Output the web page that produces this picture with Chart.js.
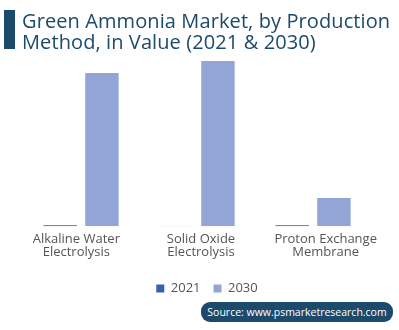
<!DOCTYPE html>
<html>
<head>
<meta charset="utf-8">
<script src="https://cdn.jsdelivr.net/npm/chart.js@4/dist/chart.umd.min.js"></script>
<style>
html,body{margin:0;padding:0;background:#fff;}
#wrap{position:relative;width:399px;height:330px;overflow:hidden;}
#bar{position:absolute;left:4px;top:10px;width:11px;height:39px;background:#1b4a6b;}
#title{position:absolute;left:22px;top:10px;font-family:"Open Sans",sans-serif;font-size:20px;line-height:21px;color:#1b4a6b;white-space:nowrap;letter-spacing:0.1px;}
#src{position:absolute;left:201px;top:302px;width:192px;height:20px;border-radius:9px;background:#1b4a6b;color:#fff;font-family:"Open Sans",sans-serif;font-size:10.5px;line-height:20px;text-align:center;white-space:nowrap;}
canvas{position:absolute;left:0;top:0;}
</style>
</head>
<body>
<div id="wrap">
<canvas id="c" width="399" height="330"></canvas>
<div id="bar"></div>
<div id="title">Green Ammonia Market, by Production<br>Method, in Value (2021 &amp; 2030)</div>
<div id="src">Source: www.psmarketresearch.com</div>
</div>
<script>
const categories = [["Alkaline Water","Electrolysis"],["Solid Oxide","Electrolysis"],["Proton Exchange","Membrane"]];
const seriesNames = ["2021","2030"];
const values2021 = [0.02, 0.004, 0.02];
const values2030 = [3.71, 4.0, 0.68];

const toPoints = arr => arr.map((v, i) => ({x: i, y: v}));

const spacing = {
  id: 'spacing',
  afterLayout(chart){
    if (chart.legend){ chart.legend.left += 6; chart.legend.right += 6; }
    const x = chart.scales.x;
    if (x && !x._wrapped){
      const orig = x.draw;
      x.draw = function(area){
        const ctx = this.ctx;
        ctx.letterSpacing = '0.4px';
        orig.call(this, area);
        ctx.letterSpacing = '0px';
      };
      x._wrapped = true;
    }
  }
};

new Chart(document.getElementById('c'), {
  type: 'bar',
  data: {
    labels: categories,
    datasets: [
      {label: seriesNames[0], data: toPoints(values2021), xAxisID: 'xb', backgroundColor: '#3a5fae', categoryPercentage: 0.72, barPercentage: 0.8},
      {label: seriesNames[1], data: toPoints(values2030), xAxisID: 'xb', backgroundColor: '#93a5d6', categoryPercentage: 0.72, barPercentage: 0.8}
    ]
  },
  plugins: [spacing],
  options: {
    responsive: false,
    animation: false,
    layout: {padding: {left: 14, right: 11, top: 61, bottom: 25}},
    plugins: {
      legend: {
        position: 'bottom',
        labels: {boxWidth: 8, boxHeight: 8, padding: 13, color: '#555', font: {family: 'Open Sans', size: 13}}
      },
      tooltip: {enabled: false}
    },
    scales: {
      x: {
        type: 'category',
        grid: {display: false, drawTicks: false},
        border: {display: false},
        ticks: {color: '#555', font: {family: 'Open Sans', size: 13, lineHeight: 1.05}, padding: 6, maxRotation: 0, autoSkip: false},
        afterFit(scale){ scale.height += 3.5; }
      },
      xb: {
        type: 'linear', display: false, offset: false, min: -0.578, max: 2.646,
        afterBuildTicks(scale){ scale.ticks = categories.map((c, i) => ({value: i})); }
      },
      y: {display: false, min: 0, max: 4.0}
    }
  }
});
</script>
</body>
</html>
